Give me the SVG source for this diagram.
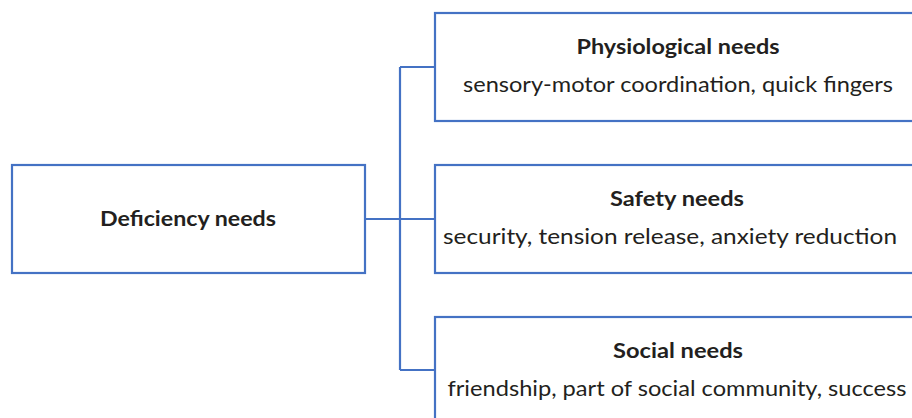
<svg xmlns="http://www.w3.org/2000/svg" width="912" height="418" viewBox="0 0 912 418">
<style>
.box{fill:#fff;stroke:#4472C4;stroke-width:2.2}
.con{fill:none;stroke:#4472C4;stroke-width:2.2}
.t{font-family:Lato,"Liberation Sans",sans-serif;fill:#231F20;text-anchor:middle}
.b{font-weight:bold;font-size:21px}
.n{font-size:21px}
</style>
<rect width="912" height="418" fill="#fff"/>
<g id="connectors">
<path class="con" d="M365 219H435M400 67V370M400 67H435M400 370H435"/>
</g>
<g id="deficiency">
<rect class="box" x="12" y="165" width="353" height="108"/>
<text class="t b" x="188" y="226" textLength="176" lengthAdjust="spacingAndGlyphs">Deficiency needs</text>
</g>
<g id="physiological">
<rect class="box" x="435" y="13" width="490" height="108"/>
<text class="t b" x="678" y="54" textLength="203" lengthAdjust="spacingAndGlyphs">Physiological needs</text>
<text class="t n" x="678" y="92" textLength="430" lengthAdjust="spacingAndGlyphs">sensory-motor coordination, quick fingers</text>
</g>
<g id="safety">
<rect class="box" x="435" y="165" width="490" height="108"/>
<text class="t b" x="677" y="206" textLength="134" lengthAdjust="spacingAndGlyphs">Safety needs</text>
<text class="t n" x="670" y="244" textLength="454" lengthAdjust="spacingAndGlyphs">security, tension release, anxiety reduction</text>
</g>
<g id="social">
<rect class="box" x="435" y="317" width="490" height="120"/>
<text class="t b" x="678" y="358" textLength="130" lengthAdjust="spacingAndGlyphs">Social needs</text>
<text class="t n" x="677" y="396" textLength="459" lengthAdjust="spacingAndGlyphs">friendship, part of social community, success</text>
</g>
</svg>
